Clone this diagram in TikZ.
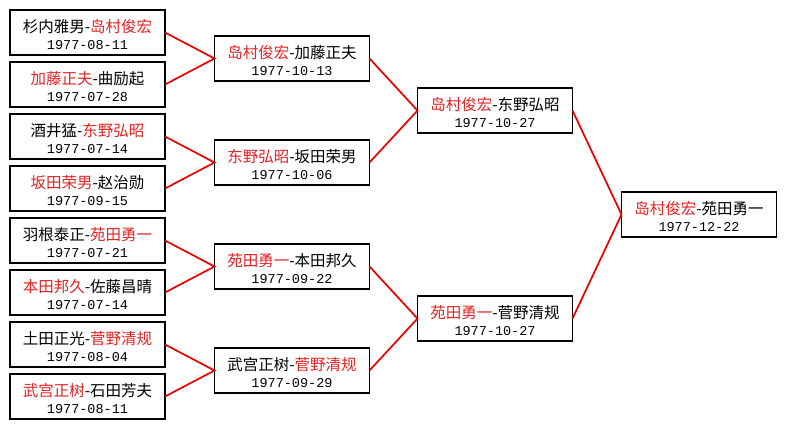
\documentclass[tikz,border=0pt]{standalone}
\usepackage{fontspec}
\setmainfont{Noto Sans CJK SC}
\newfontfamily\datefont{Liberation Mono}
\usepackage{tikz}
\usetikzlibrary{positioning}
\definecolor{winred}{RGB}{226,36,36}
\definecolor{linkred}{RGB}{232,0,0}
\newcommand{\win}[1]{\textcolor{winred}{#1}}
\newcommand{\match}[3]{\rule{0pt}{17.5pt}#1-#2\\[-0.5pt]{\datefont\fontsize{13.5}{16}\selectfont #3}}

\begin{document}
\begin{tikzpicture}[x=1pt, y=-1pt]
    \tikzstyle{game} = [rectangle, draw=black, line width=1.8pt, fill=white, minimum width=155pt, minimum height=45pt, inner sep=0pt, outer sep=0pt, align=center, font=\fontsize{15.5}{18}\selectfont]
    \tikzstyle{link} = [draw=linkred, line width=1.7pt]

    \useasboundingbox (0,0) rectangle (786,429);

    % first round
    \node [game] at (87.5,32.5) (q1) {\match{杉内雅男}{\win{岛村俊宏}}{1977-08-11}};
    \node [game, below=7pt of q1] (q2) {\match{\win{加藤正夫}}{曲励起}{1977-07-28}};
    \node [game, below=7pt of q2] (q3) {\match{酒井猛}{\win{东野弘昭}}{1977-07-14}};
    \node [game, below=7pt of q3] (q4) {\match{\win{坂田荣男}}{赵治勋}{1977-09-15}};
    \node [game, below=7pt of q4] (q5) {\match{羽根泰正}{\win{苑田勇一}}{1977-07-21}};
    \node [game, below=7pt of q5] (q6) {\match{\win{本田邦久}}{佐藤昌晴}{1977-07-14}};
    \node [game, below=7pt of q6] (q7) {\match{土田正光}{\win{菅野清规}}{1977-08-04}};
    \node [game, below=7pt of q7] (q8) {\match{\win{武宫正树}}{石田芳夫}{1977-08-11}};

    % second round
    \node [game] at (292,58.5) (s1) {\match{\win{岛村俊宏}}{加藤正夫}{1977-10-13}};
    \node [game] at (292,162.5) (s2) {\match{\win{东野弘昭}}{坂田荣男}{1977-10-06}};
    \node [game] at (292,266.5) (s3) {\match{\win{苑田勇一}}{本田邦久}{1977-09-22}};
    \node [game] at (292,370.5) (s4) {\match{武宫正树}{\win{菅野清规}}{1977-09-29}};

    % semi finals
    \node [game] at (495,110.5) (f1) {\match{\win{岛村俊宏}}{东野弘昭}{1977-10-27}};
    \node [game] at (495,318.5) (f2) {\match{\win{苑田勇一}}{菅野清规}{1977-10-27}};

    % final
    \node [game] at (699,214.5) (w) {\match{\win{岛村俊宏}}{苑田勇一}{1977-12-22}};

    \draw [link] (q1.east) -- (s1.west) -- (q2.east);
    \draw [link] (q3.east) -- (s2.west) -- (q4.east);
    \draw [link] (q5.east) -- (s3.west) -- (q6.east);
    \draw [link] (q7.east) -- (s4.west) -- (q8.east);
    \draw [link] (s1.east) -- (f1.west) -- (s2.east);
    \draw [link] (s3.east) -- (f2.west) -- (s4.east);
    \draw [link] (f1.east) -- (w.west) -- (f2.east);
\end{tikzpicture}
\end{document}
